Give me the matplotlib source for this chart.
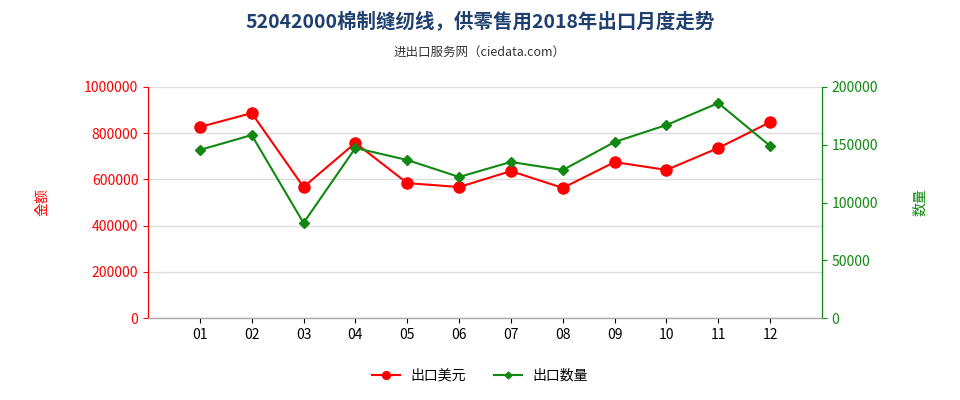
import matplotlib.pyplot as plt
from matplotlib import font_manager
from matplotlib.ticker import FuncFormatter

# pick whatever CJK font is installed
cjk = [f for f in font_manager.findSystemFonts() if 'CJK' in f or 'cjk' in f.lower()]
names = []
for f in cjk:
    try:
        font_manager.fontManager.addfont(f)
        names.append(font_manager.FontProperties(fname=f).get_name())
    except Exception:
        pass
plt.rcParams['font.family'] = 'sans-serif'
plt.rcParams['font.sans-serif'] = ['Noto Sans CJK SC'] + names + ['DejaVu Sans']

months = ['01', '02', '03', '04', '05', '06', '07', '08', '09', '10', '11', '12']
amount = [827000, 887000, 567000, 758000, 584000, 567000, 636000, 563000, 675000, 641000, 736000, 848000]
quantity = [145500, 158400, 82300, 147200, 136800, 122100, 135100, 128100, 152400, 167100, 186100, 148900]

fig = plt.figure(figsize=(9.6, 4.0), dpi=100)
ax = fig.add_axes([148 / 960, 82 / 400, 674 / 960, 231 / 400])
ax2 = ax.twinx()

x = list(range(len(months)))
l1, = ax.plot(x, amount, color='#ff0000', marker='o', markersize=8, linewidth=1.5, label='出口美元')
l2, = ax2.plot(x, quantity, color='#118811', marker='D', markersize=5, linewidth=1.5, label='出口数量')

ax.set_xlim(-1, 12)
ax.set_ylim(0, 1000000)
ax2.set_ylim(0, 200000)
ax.set_xticks(x)
ax.set_xticklabels(months)
ax.set_yticks(range(0, 1000001, 200000))
ax2.set_yticks(range(0, 200001, 50000))
ax.yaxis.set_major_formatter(FuncFormatter(lambda v, p: f'{int(v)}'))
ax.tick_params(axis='y', colors='#ff0000', labelsize=10)
ax2.tick_params(axis='y', colors='#118811', labelsize=10)
ax.tick_params(axis='x', labelsize=10)
ax.grid(axis='y', color='#dddddd', linewidth=1)
for a in (ax, ax2):
    a.spines['top'].set_visible(False)
ax2.spines['left'].set_color('#ff0000')
ax2.spines['right'].set_color('#118811')
ax2.spines['bottom'].set_color('#aaaaaa')

ax.set_ylabel('金额', color='#ff0000', fontsize=10, labelpad=25)
ax2.set_ylabel('数量', color='#118811', fontsize=10, labelpad=25)

fig.text(0.5, 0.945, '52042000棉制缝纫线，供零售用2018年出口月度走势', ha='center', va='center',
         fontsize=14, fontweight='bold', color='#1f3f6f')
fig.text(0.5, 0.87, '进出口服务网（ciedata.com）', ha='center', va='center', fontsize=9, color='#333333')

fig.legend(handles=[l1, l2], loc='center', bbox_to_anchor=(0.5, 0.06), ncol=2, frameon=False, fontsize=10,
           markerscale=0.7)

fig.savefig('out.png', dpi=100)
